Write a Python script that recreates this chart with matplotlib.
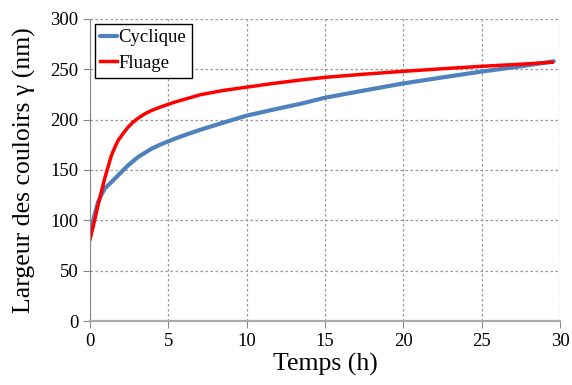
import matplotlib
matplotlib.use("Agg")
import matplotlib.pyplot as plt

plt.rcParams['font.family'] = ['Liberation Serif', 'DejaVu Serif']

# Données
t_cyc = [0, 0.25, 0.51, 0.75, 0.94, 1.37, 1.8, 2.44, 3.08, 3.94, 4.6, 5.4, 6.2, 7.05, 8.5, 10,
         11.7, 13.5, 15, 17.5, 20, 22.5, 25, 27.5, 29.6]
y_cyc = [86, 103, 118, 126, 131.6, 138, 144.8, 154.7, 163, 171.3, 176, 181, 185.5, 190, 197, 204,
         210, 216, 221.8, 229, 236, 242, 247.8, 253, 258]

t_flu = [0, 0.25, 0.51, 0.75, 0.94, 1.15, 1.37, 1.6, 1.8, 2.1, 2.44, 2.75, 3.08, 3.5, 3.94, 4.5,
         5.4, 6.2, 7.05, 8.5, 10, 11.7, 13.5, 15, 17.5, 20, 22.5, 25, 27.5, 29.5]
y_flu = [81, 97, 115, 130, 141.6, 153, 164.6, 173, 179.5, 186, 192.7, 197.5, 201.6, 205.8, 209.2, 212.6,
         217.4, 221, 224.8, 229, 232.3, 236, 239.5, 242, 245.2, 248, 250.6, 253, 255.1, 257]

fig = plt.figure(figsize=(5.72, 3.85), dpi=100)
ax = fig.add_axes([90 / 572, 1 - 321 / 385, 470 / 572, 302 / 385])

ax.plot(t_cyc, y_cyc, color='#4F81BD', linewidth=3.0, label="Cyclique", solid_capstyle='round')
ax.plot(t_flu, y_flu, color='#FF0000', linewidth=2.5, label="Fluage")

ax.set_xlim(0, 30)
ax.set_ylim(0, 300)
ax.set_xticks(range(0, 31, 5))
ax.set_yticks(range(0, 301, 50))
ax.grid(True, linestyle=(0, (2, 2)), color='#999999', linewidth=0.9)
ax.set_axisbelow(True)

for s in ['top', 'right']:
    ax.spines[s].set_visible(False)
ax.spines['left'].set_color('#888888')
ax.spines['bottom'].set_color('#AAAAAA')
ax.spines['bottom'].set_linewidth(1.6)
ax.tick_params(axis='both', labelsize=13.5, colors='#888888', labelcolor='black', length=5, direction='out')

ax.set_xlabel("Temps (h)", fontsize=18.5, labelpad=2)
ax.set_ylabel("Largeur des couloirs γ (nm)", fontsize=18.5, labelpad=10)

leg = ax.legend(loc='upper left', fontsize=13.5, frameon=True, fancybox=False,
                borderaxespad=0.25, handlelength=0.9, handletextpad=0.05,
                labelspacing=0.45, borderpad=0.3)
leg.get_frame().set_edgecolor('black')
leg.get_frame().set_linewidth(1.0)
leg.get_frame().set_alpha(1)

fig.savefig("out.png", dpi=100)
